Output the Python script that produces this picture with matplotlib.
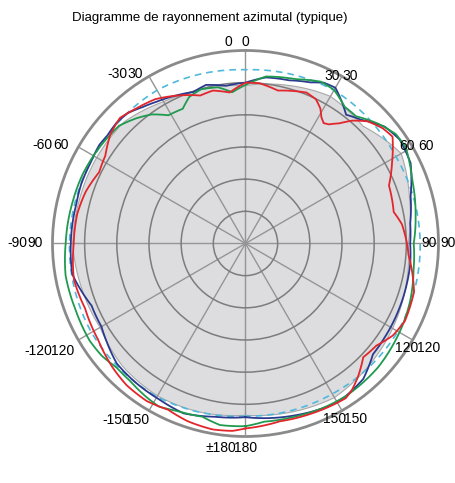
import numpy as np
import matplotlib
matplotlib.use('Agg')
import matplotlib.pyplot as plt

plt.rcParams['font.family'] = ['Liberation Sans', 'DejaVu Sans']

# angles in degrees, clockwise from top; radii in grid units (outer circle = 6)
blue_deg = [-180, -170, -160, -151, -142, -133, -125, -120, -112, -105, -100, -90, -77, -70, -63,
            -56, -52, -47, -42, -37, -32, -25, -19, -14, -7, 0, 7, 15, 22, 26, 30, 34, 38, 43,
            50, 56, 64, 74, 83, 90, 97, 104, 113, 124, 131, 139, 147, 153, 164, 173, 180]
blue_r = [5.40, 5.47, 5.62, 5.54, 5.51, 5.47, 5.28, 5.17, 5.16, 5.34, 5.47, 5.43, 5.40, 5.43, 5.43,
          5.48, 5.45, 5.49, 5.46, 5.31, 5.20, 5.08, 4.98, 5.08, 4.94, 5.00, 5.20, 5.25, 5.40, 5.56,
          5.59, 5.34, 5.08, 5.26, 5.65, 5.78, 5.71, 5.34, 5.16, 5.12, 5.16, 5.17, 5.19, 5.22, 5.25,
          5.58, 5.68, 5.68, 5.56, 5.47, 5.40]

red_deg = [-180, -176, -170, -162, -155, -148, -140, -133, -123, -112, -102, -90, -80, -72, -64,
           -58, -51, -45, -39, -32, -24, -17, -12, -6, 0, 5, 12, 22, 26, 29, 31, 33, 35, 38, 41, 45, 50,
           54, 61, 68, 78, 83, 90, 94, 106, 116, 122, 128, 134, 140, 144, 147, 159, 169, 180]
red_r = [5.75, 5.84, 5.87, 5.81, 5.70, 5.78, 5.75, 5.65, 5.47, 5.38, 5.45, 5.34, 5.31, 5.22, 5.06,
         5.14, 5.40, 5.52, 5.40, 5.29, 5.04, 4.81, 4.86, 4.72, 5.00, 5.00, 4.86, 5.06, 4.99, 4.80,
         4.58, 4.46, 4.52, 4.74, 5.06, 5.37, 5.57, 5.65, 5.21, 4.81, 4.71, 4.90, 5.02, 5.08, 5.45,
         5.51, 5.40, 5.16, 5.09, 5.43, 5.63, 5.73, 5.67, 5.63, 5.75]

green_deg = [-180, -172, -166, -158, -152, -147, -140, -134, -128, -122, -111, -100, -90, -77, -67,
             -59, -52, -47, -41, -36, -31, -25, -21, -16, -10, -5, 0, 7, 17, 25, 30, 36, 41, 48,
             54, 59, 69, 80, 90, 99, 109, 118, 125, 133, 140, 147, 155, 164, 174, 180]
green_r = [5.68, 5.70, 5.55, 5.62, 5.74, 5.68, 5.58, 5.56, 5.67, 5.71, 5.67, 5.68, 5.59, 5.53, 5.50,
           5.45, 5.40, 5.37, 5.16, 4.96, 4.65, 4.62, 4.88, 4.99, 4.93, 4.72, 4.93, 5.23, 5.34, 5.55,
           5.51, 5.25, 5.24, 5.56, 5.78, 5.81, 5.55, 5.37, 5.23, 5.29, 5.42, 5.51, 5.57, 5.64, 5.66,
           5.68, 5.65, 5.60, 5.57, 5.68]

ref_deg = [-180, -150, -120, -90, -60, -30, 0, 30, 60, 90, 120, 150, 180]
ref_r = [5.37, 5.50, 5.53, 5.47, 5.43, 5.50, 5.40, 5.50, 5.40, 5.43, 5.47, 5.40, 5.37]

gray_deg = [-180, -165, -150, -135, -120, -105, -90, -75, -60, -45, -30, -15, 0,
            15, 30, 45, 60, 75, 90, 105, 120, 135, 150, 165, 180]
gray_r = [5.34, 5.43, 5.47, 5.40, 5.22, 5.28, 5.37, 5.34, 5.34, 5.34, 5.09, 4.97, 4.91,
          5.09, 5.28, 5.16, 5.59, 5.28, 5.06, 5.16, 5.28, 5.40, 5.53, 5.43, 5.34]

labels_a = ['0', '30', '60', '90', '120', '150', '\u00b1180', '-150', '-120', '-90', '-60', '-30']
labels_b = ['0', '30', '60', '90', '120', '150', '180', '150', '120', '90', '60', '30']
# where the labels sit (angle, radius, pixel shift of the second copy)
label_deg = [0, 32, 61.5, 90, 119.8, 148, 180, -148.6, -120.4, -90, -62, -33]
label_rad = [6.25, 6.15, 6.37, 6.3, 6.55, 6.45, 6.37, 6.43, 6.6, 6.53, 6.5, 6.3]
label_dx = [-13, -10, -11, -11, -10, -9, -9, -8, -10, -8, -8, -8]

fig = plt.figure(figsize=(4.56, 4.83), dpi=100)
ax = fig.add_axes([0.1151, 0.0963, 0.8465, 0.7992], projection='polar')
ax.set_theta_zero_location('N')
ax.set_theta_direction(-1)
ax.set_ylim(0, 6)

poly = ax.fill(np.radians(gray_deg), gray_r, color='#dddddf', ec='#a8a8a8', lw=0.8, zorder=1)[0]
poly.get_path()._interpolation_steps = 30

lines = []
lines += ax.plot(np.radians(ref_deg), ref_r, color='#4fb9dc', lw=1.2, ls=(0, (4, 3)), zorder=3)
lines += ax.plot(np.radians(blue_deg), blue_r, color='#2b3a8f', lw=1.3, zorder=3)
lines += ax.plot(np.radians(green_deg), green_r, color='#1f9a4e', lw=1.3, zorder=3)
lines += ax.plot(np.radians(red_deg), red_r, color='#e2262c', lw=1.3, zorder=3)
for ln in lines:
    ln.get_path()._interpolation_steps = 30

ax.set_thetagrids(range(0, 360, 30))
ax.set_rgrids([1, 2, 3, 4, 5])
ax.set_xticklabels([])
ax.set_yticklabels([])
ax.set_axisbelow(False)
ax.xaxis.grid(True, color='#959595', lw=1.0)
ax.yaxis.grid(True, color='#7c7c7c', lw=1.1)
ax.spines['polar'].set_color('#8a8a8a')
ax.spines['polar'].set_linewidth(2.0)

for d, rr, off, la, lb in zip(label_deg, label_rad, label_dx, labels_a, labels_b):
    t = np.radians(d)
    ax.annotate(lb, xy=(t, rr), ha='center', va='center', fontsize=10,
                annotation_clip=False)
    ax.annotate(la, xy=(t, rr), xytext=(off, 0), textcoords='offset pixels',
                ha='right', va='center', fontsize=10, annotation_clip=False)

fig.text(72 / 456, 1 - 18 / 483, 'Diagramme de rayonnement azimutal (typique)',
         ha='left', va='center', fontsize=9.5)

fig.savefig('out.png', dpi=100)
